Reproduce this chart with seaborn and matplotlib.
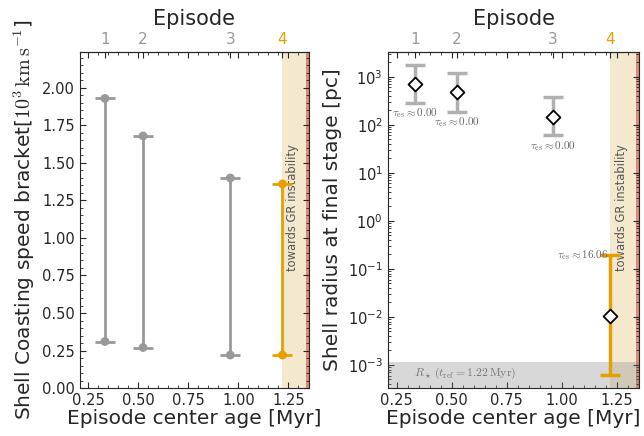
# shell coasting speed and final radius per episode

import numpy as np
import seaborn as sns
import matplotlib.pyplot as plt
from matplotlib.ticker import MultipleLocator, LogLocator, NullFormatter

# datos
episodes = [1, 2, 3, 4]
ep_age = [0.335, 0.525, 0.96, 1.22]          # Myr
v_low = [0.31, 0.27, 0.22, 0.22]              # 10^3 km/s
v_high = [1.93, 1.68, 1.40, 1.36]
r_mid = [716, 488, 148, 0.0106]               # pc
r_low = [288, 188, 60, 6.05e-4]
r_high = [1770, 1210, 385, 0.193]
tau_es = ["0.00", "0.00", "0.00", "16.06"]
r_star = 1.15e-3
t_ref = 1.22
gr_start = 1.22
gr_edge = 1.336

grey = "#999999"
orange = "#E69F00"
ep_colors = [grey, grey, grey, orange]

sns.set_style("ticks")
plt.rcParams["font.family"] = ["DejaVu Sans"]
plt.rcParams["mathtext.fontset"] = "cm"

fig = plt.figure(figsize=(6.44, 4.36), dpi=100)
ax1 = fig.add_axes([0.124, 0.11, 0.356, 0.771])
ax2 = fig.add_axes([0.602, 0.11, 0.391, 0.771])

xmin, xmax = 0.21, 1.353

for ax in [ax1, ax2]:
    ax.axvspan(gr_start, xmax, color="#f4e9cf", lw=0, zorder=0)
    ax.axvspan(gr_edge, xmax, color="#d98a7a", lw=0, zorder=0.5)
    ax.set_xlim(xmin, xmax)
    ax.xaxis.set_major_locator(MultipleLocator(0.25))
    ax.xaxis.set_minor_locator(MultipleLocator(0.05))
    ax.tick_params(which="both", direction="in", top=True, right=True, labelsize=10.5)
    ax.tick_params(which="major", length=4)
    ax.tick_params(which="minor", length=2)
    ax.set_xlabel("Episode center age [Myr]", fontsize=14.5, labelpad=1)
    ax.text(1.27, 0.725, "towards GR instability", transform=ax.get_xaxis_transform(),
            rotation=90, ha="center", va="top", fontsize=8.3, color="#555555")
    # eje superior con episodios
    sec = ax.secondary_xaxis("top")
    sec.set_xticks(ep_age)
    sec.set_xticklabels([str(e) for e in episodes], fontsize=11)
    for lab, c in zip(sec.get_xticklabels(), ep_colors):
        lab.set_color(c)
    sec.tick_params(direction="in", length=4)
    sec.set_xlabel("Episode", fontsize=15, labelpad=5)

# panel izquierdo: rango de velocidades
for x, lo, hi, c in zip(ep_age, v_low, v_high, ep_colors):
    ax1.errorbar([x], [(lo + hi) / 2], yerr=[[(hi - lo) / 2]], fmt="none",
                 ecolor=c, elinewidth=2, capsize=7, capthick=2, zorder=3)
sns.scatterplot(x=ep_age + ep_age, y=v_low + v_high, hue=[str(e) for e in episodes] * 2,
                palette=dict(zip([str(e) for e in episodes], ep_colors)),
                s=40, edgecolor="none", legend=False, zorder=4, ax=ax1)
ax1.set_ylim(0, 2.24)
ax1.yaxis.set_major_locator(MultipleLocator(0.25))
ax1.yaxis.set_minor_locator(MultipleLocator(0.05))
ax1.set_ylabel(r"Shell Coasting speed bracket[$10^3\,\mathrm{km\,s^{-1}}$]", fontsize=14.5, labelpad=4)

# panel derecho: radio final
ax2.set_yscale("log")
ax2.set_ylim(3.3e-4, 3.3e3)
ax2.axhspan(3.3e-4, r_star, color="gray", alpha=0.3, lw=0, zorder=1)
ax2.text(0.33, 6.6e-4, r"$R_\star\,(t_\mathrm{ref}=%.2f\,\mathrm{Myr})$" % t_ref,
         ha="left", va="center", fontsize=8.5, color="#777777")
for x, m, lo, hi, c in zip(ep_age, r_mid, r_low, r_high, ep_colors):
    ec = "#b0b0b0" if c == grey else c
    ax2.errorbar([x], [m], yerr=[[m - lo], [hi - m]], fmt="none", ecolor=ec,
                 elinewidth=2.5, capsize=7, capthick=2.5, zorder=3)
sns.scatterplot(x=ep_age, y=r_mid, marker="D", s=50, color="white", edgecolor="black",
                linewidth=1.3, zorder=4, ax=ax2)
for i, (x, lo, hi, t) in enumerate(zip(ep_age, r_low, r_high, tau_es)):
    label = r"$\tau_\mathrm{es}\approx%s$" % t
    if i < 3:
        ax2.text(x, lo * 0.85, label, ha="center", va="top", fontsize=8, color="#666666")
    else:
        ax2.text(x - 0.01, hi, label, ha="right", va="center", fontsize=8, color="#666666")
ax2.yaxis.set_major_locator(LogLocator(base=10, numticks=20))
ax2.yaxis.set_minor_locator(LogLocator(base=10, subs=np.arange(2, 10), numticks=20))
ax2.yaxis.set_minor_formatter(NullFormatter())
ax2.set_ylabel("Shell radius at final stage [pc]", fontsize=14.5, labelpad=4)

fig.savefig("out.png", dpi=100)
